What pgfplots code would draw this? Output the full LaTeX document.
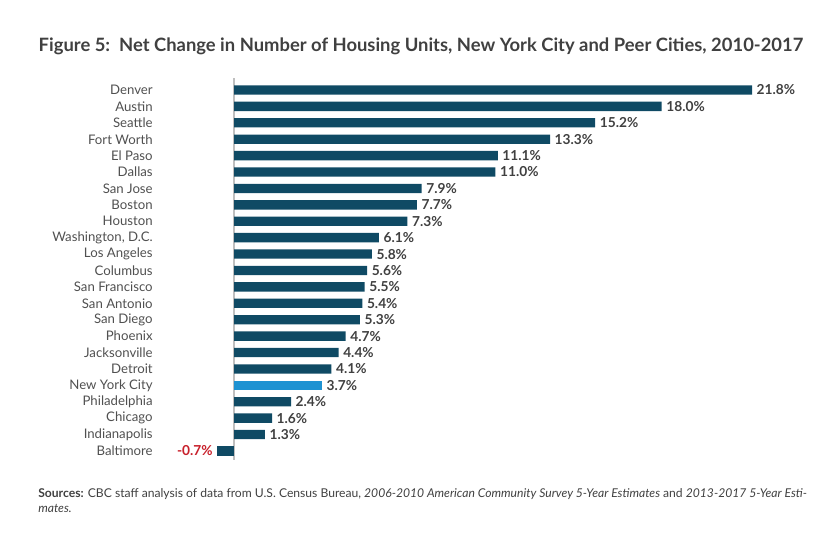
\documentclass[border=0pt]{standalone}
\usepackage{pgfplots}
\pgfplotsset{compat=1.18}
\usepackage{fontspec}
\setmainfont{Lato}
\definecolor{bardark}{HTML}{0F4A64}
\definecolor{barlight}{HTML}{1E92D2}
\definecolor{negred}{HTML}{C8202B}
\definecolor{txt}{HTML}{404040}
\definecolor{ticktxt}{HTML}{505050}
\begin{document}
\begin{tikzpicture}
\path[use as bounding box] (0,0) rectangle (630pt,-420pt);
\node[font=\bfseries\fontsize{13.8}{16}\selectfont, text=txt] at (315.75pt,-34.5pt) {Figure 5:\ \ Net Change in Number of Housing Units, New York City and Peer Cities, 2010-2017};
\begin{axis}[
  at={(116.7pt,-58.5pt)}, anchor=north west,
  scale only axis, width=486.5pt, height=286.5pt,
  xbar, bar width=7pt, bar shift=0pt,
  xmin=-3.3, xmax=24,
  ymin=-0.73, ymax=22.55, y dir=reverse,
  axis line style={draw=none},
  xtick=\empty,
  extra x ticks={0}, extra x tick labels={},
  extra x tick style={grid=major, major grid style={draw=black!25, line width=1.1pt}, major tick length=0pt},
  ytick={0,...,22},
  yticklabels={Denver,Austin,Seattle,Fort Worth,El Paso,Dallas,San Jose,Boston,Houston,{Washington, D.C.},Los Angeles,Columbus,San Francisco,San Antonio,San Diego,Phoenix,Jacksonville,Detroit,New York City,Philadelphia,Chicago,Indianapolis,Baltimore},
  yticklabel style={font=\fontsize{9.9}{11}\selectfont, text=ticktxt, inner sep=2pt},
  major tick length=0pt,
  clip=false,
  nodes near coords={\pgfmathprintnumber[fixed,precision=1,fixed zerofill]{\pgfplotspointmeta}\%},
  nodes near coords style={font=\bfseries\fontsize{10.3}{12}\selectfont, text=txt, /pgf/number format/assume math mode=true},
]
\addplot[fill=bardark, draw=none] coordinates {
(21.8,0) (18.0,1) (15.2,2) (13.3,3) (11.1,4) (11.0,5) (7.9,6) (7.7,7) (7.3,8) (6.1,9) (5.8,10) (5.6,11) (5.5,12) (5.4,13) (5.3,14) (4.7,15) (4.4,16) (4.1,17) (2.4,19) (1.6,20) (1.3,21)
};
\addplot[fill=barlight, draw=none] coordinates {(3.7,18)};
\addplot[fill=bardark, draw=none, nodes near coords style={text=negred, anchor=east}] coordinates {(-0.7,22)};
\end{axis}
\node[anchor=north west, text=txt, font=\fontsize{9.1}{11.2}\selectfont, align=left, inner sep=0pt] at (28.5pt,-366pt) {\textbf{Sources:} CBC staff analysis of data from U.S. Census Bureau, \textit{2006-2010 American Community Survey 5-Year Estimates} and \textit{2013-2017 5-Year Esti-}\\\textit{mates.}};
\end{tikzpicture}
\end{document}
